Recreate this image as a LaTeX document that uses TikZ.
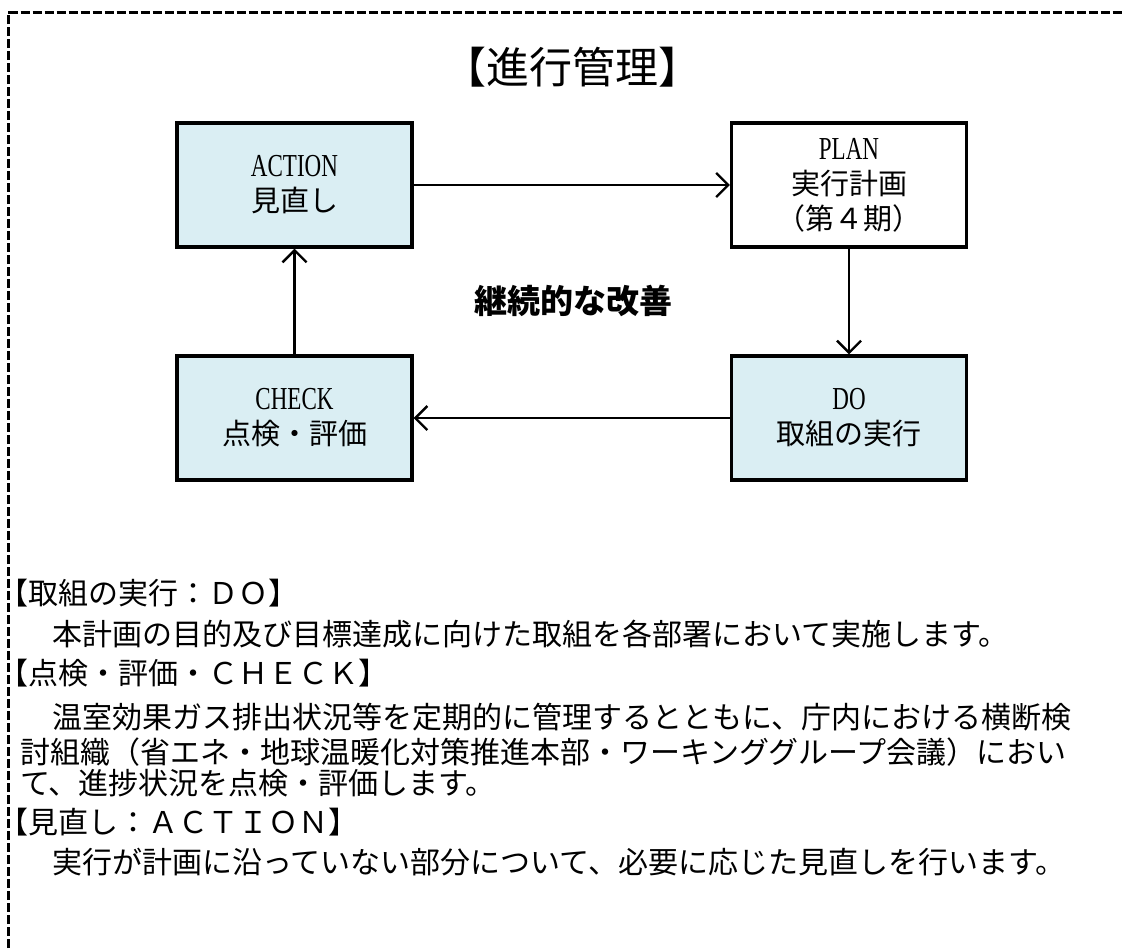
\documentclass[tikz,border=0pt]{standalone}
\usepackage{fontspec}
\usetikzlibrary{arrows.meta}
\setmainfont{Liberation Serif}
\newfontfamily\jp{Noto Sans CJK JP}
\newfontfamily\latn[FakeStretch=0.72]{Liberation Serif}
\definecolor{boxblue}{HTML}{DAEEF3}
\begin{document}
\begin{tikzpicture}[x=1pt,y=-1pt,
  box/.style={draw, line width=3.2pt, minimum width=235pt, minimum height=124pt, inner sep=0pt, align=center, font=\fontsize{29}{35}\selectfont},
  bluebox/.style={box, fill=boxblue},
  arr/.style={line width=2.4pt, -{Straight Barb[length=12pt,width=24pt,line width=2.4pt]}},
  bodytxt/.style={anchor=west, inner sep=0pt, font=\jp\fontsize{30}{36}\selectfont},
]
\useasboundingbox (0,0) rectangle (1123,948);
\draw[line width=3pt, dash pattern=on 9pt off 3pt] (8,960) -- (8,12.5) -- (1135,12.5);

\node[font=\jp\fontsize{43}{48}\selectfont, inner sep=0pt] (title) at (572,67) {【進行管理】};

\node[bluebox] (action) at (294.5,185) {{\latn\fontsize{32}{35}\selectfont ACTION}\\{\jp 見直し}};
\node[box] (plan) at (849,185) {{\latn\fontsize{32}{34}\selectfont PLAN}\\{\jp 実行計画}\\{\jp （第４期）}};
\node[bluebox] (check) at (294.5,418) {{\latn\fontsize{32}{35}\selectfont CHECK}\\{\jp 点検・評価}};
\node[bluebox] (do) at (849,418) {{\latn\fontsize{32}{35}\selectfont DO}\\{\jp 取組の実行}};

\node[font=\jp\bfseries\fontsize{33}{40}\selectfont, inner sep=0pt] (kaizen) at (573,301) {継続的な改善};

\draw[arr] (action.east) -- (plan.west);
\draw[arr] (plan.south) -- (do.north);
\draw[arr] (do.west) -- (check.east);
\draw[arr] (check.north) -- (action.south);

\node[bodytxt] (h1) at (-2,593) {【取組の実行：ＤＯ】};
\node[bodytxt] (p1) at (22,634) {　本計画の目的及び目標達成に向けた取組を各部署において実施します。};
\node[bodytxt] (h2) at (-2,673) {【点検・評価・ＣＨＥＣＫ】};
\node[bodytxt] (p2a) at (22,717) {　温室効果ガス排出状況等を定期的に管理するとともに、庁内における横断検};
\node[bodytxt] (p2b) at (20,752) {討組織（省エネ・地球温暖化対策推進本部・ワーキンググループ会議）におい};
\node[bodytxt] (p2c) at (20,783) {て、進捗状況を点検・評価します。};
\node[bodytxt] (h3) at (-2,822) {【見直し：ＡＣＴＩＯＮ】};
\node[bodytxt] (p3) at (22,862) {　実行が計画に沿っていない部分について、必要に応じた見直しを行います。};
\end{tikzpicture}
\end{document}
